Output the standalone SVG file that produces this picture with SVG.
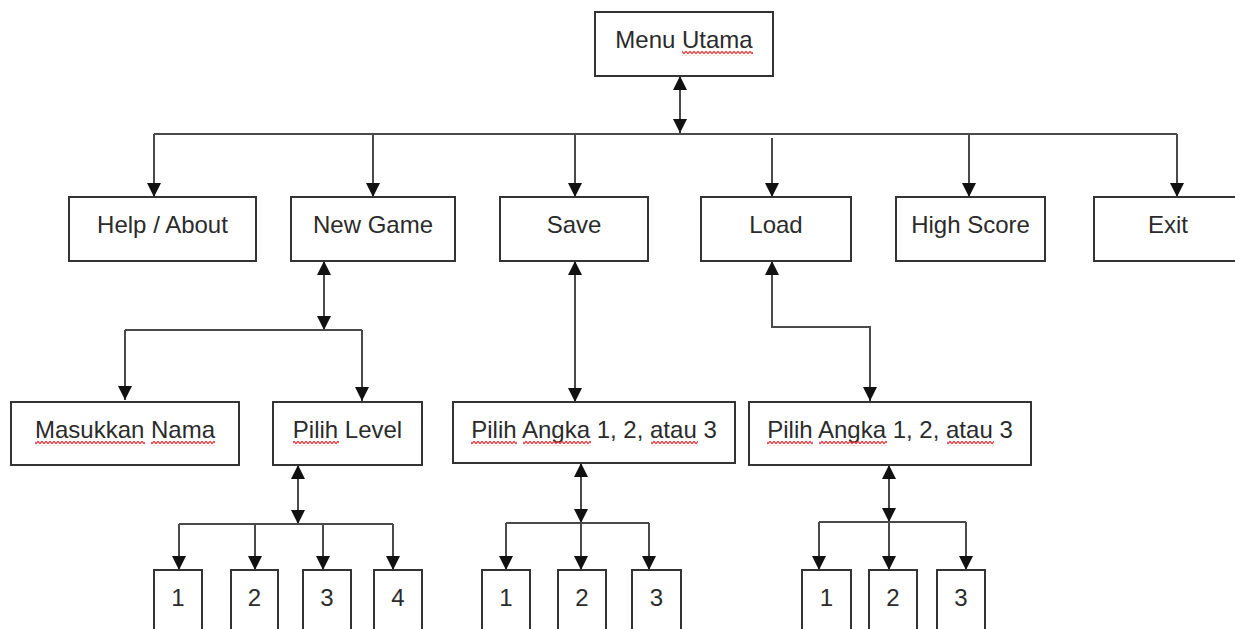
<svg xmlns="http://www.w3.org/2000/svg" width="1235" height="629" viewBox="0 0 1235 629">
<style>
.box{fill:#fff;stroke:#333;stroke-width:2}
.lbl{font-family:"Liberation Sans",Arial,sans-serif;font-size:24px;fill:#2b2b2b;text-anchor:middle}
.ln{fill:none;stroke:#4a4a4a;stroke-width:2}
.arr{marker-end:url(#ah)}
.dbl{marker-start:url(#ah);marker-end:url(#ah)}
.sq{fill:url(#wave)}
</style>
<defs>
<marker id="ah" viewBox="0 0 14 14" markerWidth="15" markerHeight="14" refX="14" refY="7" orient="auto-start-reverse" markerUnits="userSpaceOnUse">
<path d="M0,0 L14,7 L0,14 z" fill="#111"/>
</marker>
<pattern id="wave" patternUnits="userSpaceOnUse" width="4" height="5">
<path d="M0,3.8 L2,1.2 L4,3.8" fill="none" stroke="#e8383d" stroke-width="1.3"/>
</pattern>
</defs>
<rect width="1235" height="629" fill="#fff"/>
<g id="connectors">
<path class="ln dbl" d="M680,76 V133"/>
<path class="ln" d="M154,134 H1177"/>
<path class="ln arr" d="M154,134 V197"/>
<path class="ln arr" d="M373,134 V197"/>
<path class="ln arr" d="M575,134 V197"/>
<path class="ln arr" d="M772,138 V197"/>
<path class="ln arr" d="M969,134 V197"/>
<path class="ln arr" d="M1177,134 V197"/>
<path class="ln dbl" d="M324,261 V330"/>
<path class="ln" d="M125,330 H362"/>
<path class="ln arr" d="M125,330 V400"/>
<path class="ln arr" d="M362,330 V401"/>
<path class="ln dbl" d="M575,261 V402"/>
<path class="ln dbl" d="M772,261 V327 H870 V401"/>
<path class="ln dbl" d="M298,465 V524"/>
<path class="ln" d="M179,524 H393"/>
<path class="ln arr" d="M179,524 V570"/>
<path class="ln arr" d="M255,524 V570"/>
<path class="ln arr" d="M323,524 V570"/>
<path class="ln arr" d="M393,524 V570"/>
<path class="ln dbl" d="M581,463 V523"/>
<path class="ln" d="M506,523 H649"/>
<path class="ln arr" d="M506,523 V570"/>
<path class="ln arr" d="M581,523 V570"/>
<path class="ln arr" d="M649,523 V570"/>
<path class="ln dbl" d="M889,465 V522"/>
<path class="ln" d="M819,522 H966"/>
<path class="ln arr" d="M819,522 V570"/>
<path class="ln arr" d="M889,522 V570"/>
<path class="ln arr" d="M966,522 V570"/>
</g>
<g id="menu-utama"><rect class="box" x="595" y="12" width="178" height="64"/><text class="lbl" x="684" y="48">Menu Utama</text><rect class="sq" x="682" y="51" width="71" height="5"/></g>
<g id="help-about"><rect class="box" x="69" y="197" width="187" height="64"/><text class="lbl" x="162.5" y="233">Help / About</text></g>
<g id="new-game"><rect class="box" x="291" y="197" width="164" height="64"/><text class="lbl" x="373" y="233">New Game</text></g>
<g id="save"><rect class="box" x="500" y="197" width="148" height="64"/><text class="lbl" x="574" y="233">Save</text></g>
<g id="load"><rect class="box" x="701" y="197" width="150" height="64"/><text class="lbl" x="776" y="233">Load</text></g>
<g id="high-score"><rect class="box" x="896" y="197" width="149" height="64"/><text class="lbl" x="970.5" y="233">High Score</text></g>
<g id="exit"><rect class="box" x="1094" y="197" width="148" height="64"/><text class="lbl" x="1168" y="233">Exit</text></g>
<g id="masukkan-nama"><rect class="box" x="11" y="402" width="228" height="63"/><text class="lbl" x="125" y="438">Masukkan Nama</text><rect class="sq" x="35" y="441" width="110" height="5"/><rect class="sq" x="151" y="441" width="64" height="5"/></g>
<g id="pilih-level"><rect class="box" x="273" y="402" width="149" height="63"/><text class="lbl" x="347.5" y="438">Pilih Level</text><rect class="sq" x="293" y="441" width="46" height="5"/></g>
<g id="save-pilih-angka"><rect class="box" x="453" y="402" width="282" height="61"/><text class="lbl" x="594" y="438">Pilih Angka 1, 2, atau 3</text><rect class="sq" x="471" y="441" width="46" height="5"/><rect class="sq" x="523" y="441" width="68" height="5"/><rect class="sq" x="651" y="441" width="47" height="5"/></g>
<g id="load-pilih-angka"><rect class="box" x="749" y="402" width="282" height="63"/><text class="lbl" x="890" y="438">Pilih Angka 1, 2, atau 3</text><rect class="sq" x="767" y="441" width="46" height="5"/><rect class="sq" x="819" y="441" width="68" height="5"/><rect class="sq" x="947" y="441" width="47" height="5"/></g>
<g id="level-1"><rect class="box" x="154" y="570" width="48" height="80"/><text class="lbl" x="178" y="606">1</text></g>
<g id="level-2"><rect class="box" x="231" y="570" width="47" height="80"/><text class="lbl" x="254.5" y="606">2</text></g>
<g id="level-3"><rect class="box" x="303" y="570" width="48" height="80"/><text class="lbl" x="327" y="606">3</text></g>
<g id="level-4"><rect class="box" x="374" y="570" width="48" height="80"/><text class="lbl" x="398" y="606">4</text></g>
<g id="save-1"><rect class="box" x="482" y="570" width="48" height="80"/><text class="lbl" x="506" y="606">1</text></g>
<g id="save-2"><rect class="box" x="558" y="570" width="48" height="80"/><text class="lbl" x="582" y="606">2</text></g>
<g id="save-3"><rect class="box" x="632" y="570" width="49" height="80"/><text class="lbl" x="656.5" y="606">3</text></g>
<g id="load-1"><rect class="box" x="802" y="570" width="49" height="80"/><text class="lbl" x="826.5" y="606">1</text></g>
<g id="load-2"><rect class="box" x="869" y="570" width="48" height="80"/><text class="lbl" x="893" y="606">2</text></g>
<g id="load-3"><rect class="box" x="937" y="570" width="48" height="80"/><text class="lbl" x="961" y="606">3</text></g>
</svg>
